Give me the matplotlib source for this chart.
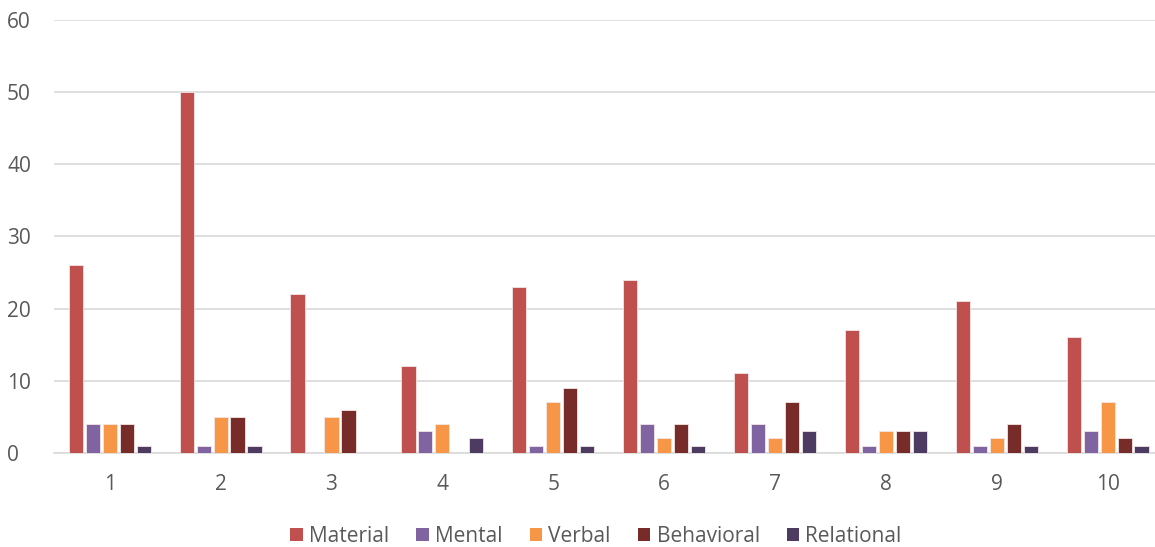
import numpy as np
import matplotlib
matplotlib.use("Agg")
import matplotlib.pyplot as plt
from matplotlib.patches import Patch

# data
categories = ["1", "2", "3", "4", "5", "6", "7", "8", "9", "10"]
material = [26, 50, 22, 12, 23, 24, 11, 17, 21, 16]
mental = [4, 1, 0, 3, 1, 4, 4, 1, 1, 3]
verbal = [4, 5, 5, 4, 7, 2, 2, 3, 2, 7]
behavioral = [4, 5, 6, 0, 9, 4, 7, 3, 4, 2]
relational = [1, 1, 0, 2, 1, 1, 3, 3, 1, 1]

series_names = ["Material", "Mental", "Verbal", "Behavioral", "Relational"]
series = [material, mental, verbal, behavioral, relational]
colors = ["#C0504D", "#8064A2", "#F79646", "#772C2A", "#4D3B62"]

plt.rcParams["font.family"] = ["Open Sans", "DejaVu Sans"]

fig = plt.figure(figsize=(11.55, 5.47), dpi=100)
ax = fig.add_axes([0.047, 0.172, 0.96, 0.792])

x = np.arange(1, len(categories) + 1)
slot = 0.153
width = 0.128
for i, (name, vals, c) in enumerate(zip(series_names, series, colors)):
    ax.bar(x + (i - 2) * slot, vals, width=width, color=c,
           edgecolor="#f2e6e6", linewidth=0.6, zorder=3, label=name)

ax.set_xlim(0.5, len(categories) + 0.5)
ax.set_ylim(0, 60)
ax.set_yticks(range(0, 61, 10))
ax.set_xticks(x)
ax.set_xticklabels(categories)
ax.yaxis.grid(True, color="#D9D9D9", linewidth=1.2, zorder=0)
for s in ["top", "right", "left"]:
    ax.spines[s].set_visible(False)
ax.spines["bottom"].set_color("#D9D9D9")
ax.spines["bottom"].set_linewidth(1.2)
ax.tick_params(axis="both", length=0, labelsize=15, colors="#595959")
ax.tick_params(axis="x", pad=15)
ax.tick_params(axis="y", pad=34)
for lbl in ax.get_yticklabels():
    lbl.set_horizontalalignment("left")

handles = [Patch(facecolor=c, label=n) for n, c in zip(series_names, colors)]
fig.legend(handles=handles, loc="center", bbox_to_anchor=(0.516, 0.02),
           ncol=5, frameon=False, fontsize=15, handlelength=0.6,
           handleheight=0.6, handletextpad=0.3, columnspacing=1.3,
           labelcolor="#595959")

fig.savefig("out.png", dpi=100)
